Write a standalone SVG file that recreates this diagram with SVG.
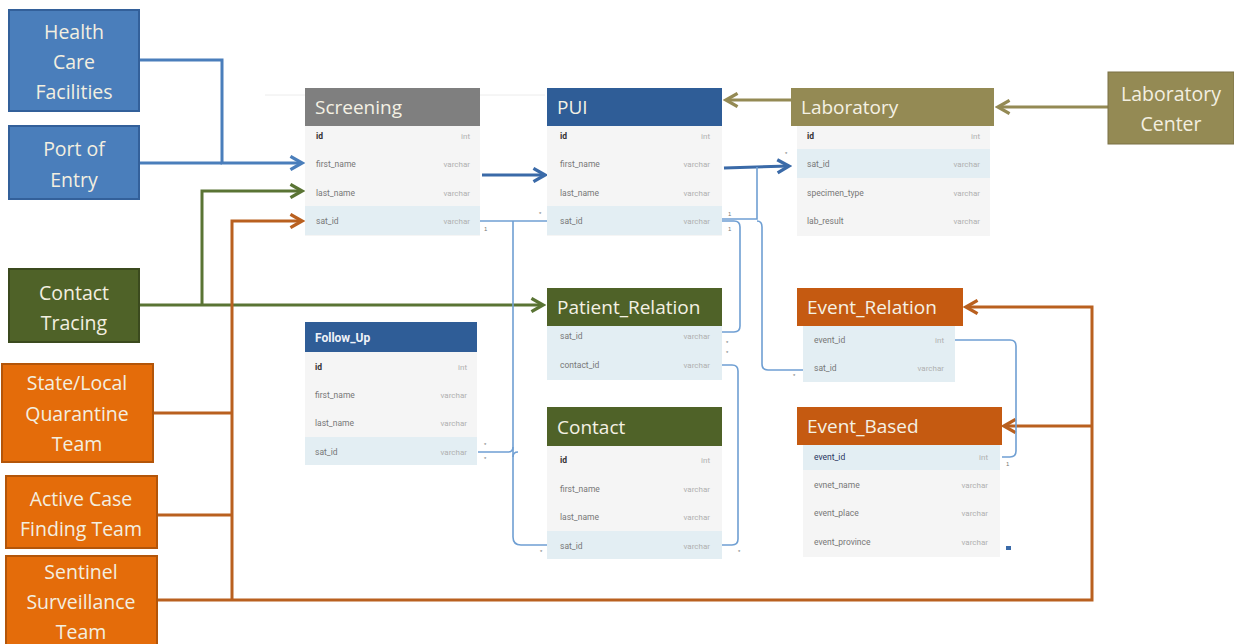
<svg xmlns="http://www.w3.org/2000/svg" width="1234" height="644" viewBox="0 0 1234 644">
  <style>
    .src text { font-family: "Open Sans", "Noto Sans", sans-serif; font-size: 19.5px; fill: #f3efe0; text-anchor: middle; }
    .hdr { font-family: "Open Sans", "Noto Sans", sans-serif; font-size: 19px; fill: #f4f1e4; }
    .body { fill: #f5f5f5; }
    .hl { fill: #e3eef3; }
    .fn { font-family: "Roboto", "Liberation Sans", sans-serif; font-size: 8.5px; fill: #777; }
    .fk { font-family: "Roboto", "Liberation Sans", sans-serif; font-size: 8.5px; fill: #333; font-weight: bold; }
    .ty { font-family: "Roboto", "Liberation Sans", sans-serif; font-size: 8px; fill: #b0b0b0; text-anchor: end; }
    .card { font-family: "Liberation Sans", sans-serif; font-size: 6px; fill: #777; }
    .rel { fill: none; stroke: #6f9fd3; stroke-width: 1.6; }
    .flow { fill: none; stroke-width: 3; }
  </style>
  <defs>
    <marker id="ahBlue" viewBox="0 0 10 10" refX="8" refY="5" markerWidth="5.5" markerHeight="5.5" orient="auto" markerUnits="strokeWidth">
      <path d="M1,1 L8,5 L1,9" fill="none" stroke="#4a7ebb" stroke-width="2"/>
    </marker>
    <marker id="ahDark" viewBox="0 0 10 10" refX="8" refY="5" markerWidth="5.5" markerHeight="5.5" orient="auto" markerUnits="strokeWidth">
      <path d="M1,1 L8,5 L1,9" fill="none" stroke="#3a6aa8" stroke-width="2"/>
    </marker>
    <marker id="ahGreen" viewBox="0 0 10 10" refX="8" refY="5" markerWidth="5.5" markerHeight="5.5" orient="auto" markerUnits="strokeWidth">
      <path d="M1,1 L8,5 L1,9" fill="none" stroke="#5a7434" stroke-width="2"/>
    </marker>
    <marker id="ahOrange" viewBox="0 0 10 10" refX="8" refY="5" markerWidth="5.5" markerHeight="5.5" orient="auto" markerUnits="strokeWidth">
      <path d="M1,1 L8,5 L1,9" fill="none" stroke="#b9601f" stroke-width="2"/>
    </marker>
    <marker id="ahOlive" viewBox="0 0 10 10" refX="8" refY="5" markerWidth="5.5" markerHeight="5.5" orient="auto" markerUnits="strokeWidth">
      <path d="M1,1 L8,5 L1,9" fill="none" stroke="#948a54" stroke-width="2"/>
    </marker>
  </defs>

  <rect width="1234" height="644" fill="#ffffff"/>
  <line x1="265" y1="95" x2="545" y2="95" stroke="#ececec" stroke-width="1"/>

  <!-- connectors -->
  <g id="connectors">
    <!-- data sources into Screening -->
    <polyline class="flow" stroke="#4a7ebb" points="139,60 222,60 222,163 302,163" marker-end="url(#ahBlue)"/>
    <polyline class="flow" stroke="#4a7ebb" points="139,163 222,163"/>
    <polyline class="flow" stroke="#5a7434" points="139,305 543,305" marker-end="url(#ahGreen)"/>
    <polyline class="flow" stroke="#5a7434" points="202,305 202,191 302,191" marker-end="url(#ahGreen)"/>
    <polyline class="flow" stroke="#b9601f" points="232,600 232,221 302,221" marker-end="url(#ahOrange)"/>
    <polyline class="flow" stroke="#b9601f" points="153,413 232,413"/>
    <polyline class="flow" stroke="#b9601f" points="157,515 232,515"/>
    <polyline class="flow" stroke="#b9601f" points="157,600 1092,600 1092,307 966,307" marker-end="url(#ahOrange)"/>
    <polyline class="flow" stroke="#b9601f" points="1092,426 1004,426" marker-end="url(#ahOrange)"/>
    <!-- laboratory -->
    <polyline class="flow" stroke="#948a54" points="1108,107 998,107" marker-end="url(#ahOlive)"/>
    <polyline class="flow" stroke="#948a54" points="791,100 726,100" marker-end="url(#ahOlive)"/>
    <!-- table to table flow -->
    <polyline class="flow" stroke="#3a6aa8" points="482,175 545,175" marker-end="url(#ahDark)"/>
    <polyline class="flow" stroke="#3a6aa8" points="724,168 789,166" marker-end="url(#ahDark)"/>

    <!-- key relations -->
    <path class="rel" d="M478,221 H547"/>
    <path class="rel" d="M513,221 V537 Q513,545 521,545 H547"/>
    <path class="rel" d="M478,452 H508 Q513,452 513,447 M513,457 Q513,452 518,452"/>
    <path class="rel" d="M722,221 H734 Q740,221 740,227 V326 Q740,332 734,332 H722"/>
    <path class="rel" d="M722,219 H757 V167"/>
    <path class="rel" d="M757,221 Q762,221 762,227 V364 Q762,370 768,370 H803"/>
    <path class="rel" d="M722,365 H732 Q738,365 738,371 V539 Q738,545 732,545 H722"/>
    <path class="rel" d="M955,340 H1010 Q1016,340 1016,346 V451 Q1016,457 1010,457 H1002"/>

    <!-- cardinality marks -->
    <text class="card" x="484" y="231">1</text>
    <text class="card" x="539" y="216">*</text>
    <text class="card" x="484" y="447">*</text>
    <text class="card" x="484" y="461">*</text>
    <text class="card" x="540" y="554">*</text>
    <text class="card" x="728" y="216">1</text>
    <text class="card" x="728" y="231">1</text>
    <text class="card" x="726" y="345">*</text>
    <text class="card" x="726" y="355">*</text>
    <text class="card" x="738" y="554">*</text>
    <text class="card" x="785" y="156">*</text>
    <text class="card" x="793" y="378">*</text>
    <text class="card" x="1006" y="466">1</text>
  </g>

  <!-- source nodes -->
  <g id="health-care-facilities" class="src">
    <rect x="9" y="10" width="130" height="101" fill="#4a7ebb" stroke="#33609a" stroke-width="2"/>
    <text x="74" y="39">Health</text>
    <text x="74" y="69">Care</text>
    <text x="74" y="99">Facilities</text>
  </g>
  <g id="port-of-entry" class="src">
    <rect x="9" y="126" width="130" height="73" fill="#4a7ebb" stroke="#33609a" stroke-width="2"/>
    <text x="74" y="156">Port of</text>
    <text x="74" y="187">Entry</text>
  </g>
  <g id="contact-tracing" class="src">
    <rect x="9" y="269" width="130" height="73" fill="#4f6228" stroke="#3b4a1e" stroke-width="2"/>
    <text x="74" y="300">Contact</text>
    <text x="74" y="330">Tracing</text>
  </g>
  <g id="state-local-quarantine-team" class="src">
    <rect x="2" y="364" width="151" height="98" fill="#e46c0a" stroke="#b35509" stroke-width="2"/>
    <text x="77" y="390">State/Local</text>
    <text x="77" y="421">Quarantine</text>
    <text x="77" y="451">Team</text>
  </g>
  <g id="active-case-finding-team" class="src">
    <rect x="6" y="476" width="151" height="72" fill="#e46c0a" stroke="#b35509" stroke-width="2"/>
    <text x="81" y="506">Active Case</text>
    <text x="81" y="536">Finding Team</text>
  </g>
  <g id="sentinel-surveillance-team" class="src">
    <rect x="6" y="556" width="151" height="92" fill="#e46c0a" stroke="#b35509" stroke-width="2"/>
    <text x="81" y="579">Sentinel</text>
    <text x="81" y="609">Surveillance</text>
    <text x="81" y="639">Team</text>
  </g>
  <g id="laboratory-center" class="src">
    <rect x="1108" y="72" width="126" height="72" fill="#948a54" stroke="#7a7144" stroke-width="1"/>
    <text x="1171" y="101">Laboratory</text>
    <text x="1171" y="131">Center</text>
  </g>

  <!-- tables -->
  <g id="screening">
    <rect class="body" x="305" y="126" width="175" height="110"/>
    <rect class="hl" x="305" y="206" width="175" height="29"/>
    <rect x="305" y="88" width="175" height="38" fill="#7f7f7f"/>
    <text class="hdr" x="315" y="114">Screening</text>
    <text class="fk" x="316" y="139">id</text><text class="ty" x="470" y="139">int</text>
    <text class="fn" x="316" y="167">first_name</text><text class="ty" x="470" y="167">varchar</text>
    <text class="fn" x="316" y="196">last_name</text><text class="ty" x="470" y="196">varchar</text>
    <text class="fn" x="316" y="224">sat_id</text><text class="ty" x="470" y="224">varchar</text>
  </g>

  <g id="pui">
    <rect class="body" x="547" y="126" width="175" height="110"/>
    <rect class="hl" x="547" y="206" width="175" height="29"/>
    <rect x="547" y="88" width="175" height="38" fill="#2f5d97"/>
    <text class="hdr" x="557" y="114">PUI</text>
    <text class="fk" x="560" y="139">id</text><text class="ty" x="710" y="139">int</text>
    <text class="fn" x="560" y="167">first_name</text><text class="ty" x="710" y="167">varchar</text>
    <text class="fn" x="560" y="196">last_name</text><text class="ty" x="710" y="196">varchar</text>
    <text class="fn" x="560" y="224">sat_id</text><text class="ty" x="710" y="224">varchar</text>
  </g>

  <g id="laboratory">
    <rect class="body" x="797" y="126" width="193" height="110"/>
    <rect class="hl" x="797" y="149" width="193" height="29"/>
    <rect x="791" y="88" width="203" height="38" fill="#948a54"/>
    <text class="hdr" x="801" y="114">Laboratory</text>
    <text class="fk" x="807" y="139">id</text><text class="ty" x="980" y="139">int</text>
    <text class="fn" x="807" y="167">sat_id</text><text class="ty" x="980" y="167">varchar</text>
    <text class="fn" x="807" y="196">specimen_type</text><text class="ty" x="980" y="196">varchar</text>
    <text class="fn" x="807" y="224">lab_result</text><text class="ty" x="980" y="224">varchar</text>
  </g>

  <g id="follow-up">
    <rect class="body" x="305" y="352" width="172" height="113"/>
    <rect class="hl" x="305" y="437" width="172" height="28"/>
    <rect x="305" y="322" width="172" height="30" fill="#2f5d97"/>
    <text x="315" y="342" font-family="Roboto, 'Liberation Sans', sans-serif" font-size="12" font-weight="bold" fill="#eef2f8">Follow_Up</text>
    <text class="fk" x="315" y="370">id</text><text class="ty" x="467" y="370">int</text>
    <text class="fn" x="315" y="398">first_name</text><text class="ty" x="467" y="398">varchar</text>
    <text class="fn" x="315" y="426">last_name</text><text class="ty" x="467" y="426">varchar</text>
    <text class="fn" x="315" y="455">sat_id</text><text class="ty" x="467" y="455">varchar</text>
  </g>

  <g id="patient-relation">
    <rect class="hl" x="547" y="326" width="175" height="54"/>
    <rect x="547" y="288" width="175" height="38" fill="#4f6228"/>
    <text class="hdr" x="557" y="314">Patient_Relation</text>
    <text class="fn" x="560" y="339">sat_id</text><text class="ty" x="710" y="339">varchar</text>
    <text class="fn" x="560" y="368">contact_id</text><text class="ty" x="710" y="368">varchar</text>
  </g>

  <g id="contact">
    <rect class="body" x="547" y="446" width="175" height="113"/>
    <rect class="hl" x="547" y="531" width="175" height="28"/>
    <rect x="547" y="407" width="175" height="39" fill="#4f6228"/>
    <text class="hdr" x="557" y="434">Contact</text>
    <text class="fk" x="560" y="463">id</text><text class="ty" x="710" y="463">int</text>
    <text class="fn" x="560" y="492">first_name</text><text class="ty" x="710" y="492">varchar</text>
    <text class="fn" x="560" y="520">last_name</text><text class="ty" x="710" y="520">varchar</text>
    <text class="fn" x="560" y="549">sat_id</text><text class="ty" x="710" y="549">varchar</text>
  </g>

  <g id="event-relation">
    <rect class="hl" x="803" y="326" width="152" height="56"/>
    <rect x="797" y="288" width="166" height="38" fill="#c55a11"/>
    <text class="hdr" x="807" y="314">Event_Relation</text>
    <text class="fn" x="814" y="343">event_id</text><text class="ty" x="944" y="343">int</text>
    <text class="fn" x="814" y="371">sat_id</text><text class="ty" x="944" y="371">varchar</text>
  </g>

  <g id="event-based">
    <rect class="body" x="803" y="445" width="197" height="112"/>
    <rect class="hl" x="803" y="445" width="197" height="25"/>
    <rect x="797" y="407" width="205" height="38" fill="#c55a11"/>
    <text class="hdr" x="807" y="433">Event_Based</text>
    <text class="fn" x="814" y="460" style="fill:#2a3560">event_id</text><text class="ty" x="988" y="460">int</text>
    <text class="fn" x="814" y="488">evnet_name</text><text class="ty" x="988" y="488">varchar</text>
    <text class="fn" x="814" y="516">event_place</text><text class="ty" x="988" y="516">varchar</text>
    <text class="fn" x="814" y="545">event_province</text><text class="ty" x="988" y="545">varchar</text>
    <rect x="1006" y="546" width="5" height="4" fill="#3a6aa8"/>
  </g>
</svg>
